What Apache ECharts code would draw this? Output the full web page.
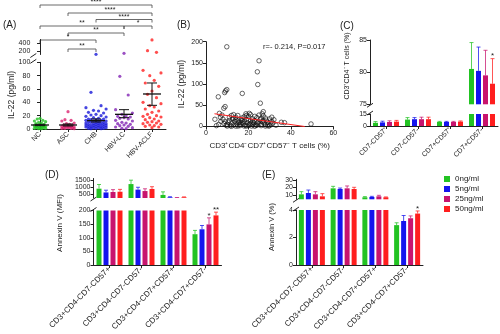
<!DOCTYPE html>
<html>
<head>
<meta charset="utf-8">
<script src="https://cdn.jsdelivr.net/npm/echarts@6/dist/echarts.min.js"></script>
<style>html,body{margin:0;background:#fff}#main{width:500px;height:334px}</style>
</head>
<body>
<div id="main"></div>
<script>
// ---- data ----
const aGroups = ['NC', 'ASC', 'CHB', 'HBV-LC', 'HBV-ACLF']
const ncVals = [16, 15, 13, 12, 11, 10, 9, 8, 7, 7, 6, 5, 5, 4, 4, 3, 3, 3, 2, 2, 2, 1, 1, 0.5, 0.5]
const ascVals = [26, 14, 13, 12, 9, 8, 7, 6, 6, 5, 5, 4, 4, 3, 3, 3, 2, 2, 2, 1, 1, 1, 0.5]
const chbVals = [115, 55, 35, 32, 30, 28, 27, 25, 24, 22, 21, 20, 19, 18, 17, 16, 15, 15, 14, 14, 13, 13, 12, 12, 11, 11, 10, 10, 10, 9, 9, 8, 8, 8, 7, 7, 7, 6, 6, 6, 5, 5, 5, 4, 4, 4, 3, 3, 3, 2, 2, 2, 1, 1, 1, 0.5, 0.5]
const lcVals = [141, 79, 51, 29, 24, 22, 20, 19, 18, 17, 16, 15, 13, 12, 10, 9, 8, 7, 6, 5, 4, 3, 2, 1, 0.5]
const aclfVals = [490, 209, 167, 88, 84, 80, 73, 69, 64, 57, 52, 47, 40, 38, 35, 33, 30, 27, 25, 22, 20, 19, 18, 17, 15, 14, 12, 11, 10, 9, 8, 7, 6, 5, 4, 3, 2]
const aMean = [6, 6, 12.5, 22, 52.5]
const aSemLo = [5, 4.5, 10.5, 17, 35.5]
const aSemHi = [7, 7.5, 15, 29, 69]
// [from group, to group, label, y px of bracket]
const aSig = [[0, 4, '****', 5], [1, 4, '****', 13], [2, 4, '****', 19.5], [0, 3, '**', 26], [3, 4, '*', 26], [1, 3, '**', 33], [0, 2, '*', 40], [1, 2, '**', 49]]

const bPoints = [[9.8, 188], [25, 155], [24.2, 129], [24.4, 99], [25.6, 55], [17.1, 78], [9.8, 87], [9.2, 84], [8.8, 80], [5.8, 70],
  [8.4, 43], [9, 47], [6.3, 31], [49.5, 6], [37, 9], [35.5, 10], [4.2, 17], [4.9, 2], [20.4, 31], [18.8, 30], [27, 35], [26.5, 30],
  [6.8, 22], [7.5, 27], [8, 17], [10, 5], [10.5, 10], [11, 14], [11.5, 2], [12, 8], [12.5, 18], [13, 4], [13.5, 12], [14, 22],
  [14.5, 6], [15, 26], [15.5, 10], [16, 2], [16.5, 15], [17, 20], [17.5, 7], [18, 12], [18.5, 3], [19, 17], [19.5, 9], [20, 24],
  [20.5, 5], [21, 13], [21.5, 1], [22, 18], [22.5, 8], [23, 14], [23.5, 3], [24, 21], [24.5, 10], [25, 6], [25.5, 16], [26, 2],
  [26.5, 12], [27, 25], [27.5, 8], [28, 4], [28.5, 15], [29, 10], [29.5, 1], [30, 18], [30.5, 6], [31, 12], [32, 16], [33, 3],
  [11, 22], [13, 28], [15, 1], [17, 9], [19, 1], [21, 28], [23, 0.5], [9, 12], [9.5, 3], [8.5, 7], [7, 12], [6, 5], [12, 26],
  [14, 16], [16, 9], [18, 23], [20, 15], [22, 4], [24, 8], [26, 19], [28, 20], [30, 2], [31.5, 8], [10, 1], [12, 0.5], [14, 1],
  [16, 5], [18, 1], [20, 2], [22, 11], [24, 3], [26, 5], [28, 1], [13, 19], [15, 13], [17, 14], [19, 26], [21, 7], [23, 24],
  [25, 27], [27, 14], [29, 4], [31, 22]]
const bFit = [[4, 30], [46.5, 0]]

const doses = ['0ng/ml', '5ng/ml', '25ng/ml', '50ng/ml']
const cCats = ['CD7-CD57⁺', 'CD7-CD57-', 'CD7+CD57⁺', 'CD7+CD57-']
const cMean = [[4, 8, 5, 80.5], [4.5, 8.5, 5, 80.2], [5, 8.5, 5, 79.5], [5.5, 8.5, 5.5, 78.2]]
const cSD = [[1.5, 2.5, 0.8, 4.1], [1.5, 2, 0.8, 3.7], [1.5, 2.5, 0.8, 3.9], [1.5, 2.5, 0.8, 3.9]]
const cStars = [['', '', '', ''], ['', '', '', ''], ['', '', '', ''], ['', '', '', '*']]

const deCats = ['CD3+CD4-CD7-CD57+', 'CD3+CD4-CD7-CD57-', 'CD3+CD4-CD7+CD57+', 'CD3+CD4-CD7+CD57-']
const dMean = [[870, 1200, 420, 113], [600, 800, 250, 131], [630, 700, 215, 149], [650, 850, 250, 182]]
const dSD = [[300, 280, 220, 14], [160, 170, 40, 14], [170, 160, 20, 24], [170, 160, 30, 12]]
const dStars = [['', '', '', ''], ['', '', '', ''], ['', '', '', '*'], ['', '', '', '**']]
const eMean = [[10.7, 18.8, 6.7, 2.9], [12.5, 17.9, 7.1, 3.2], [10.7, 18.8, 8, 3.4], [8, 17.9, 6.7, 3.74]]
const eSD = [[3.6, 2.7, 0.9, 0.17], [4, 1.3, 0.9, 0.4], [3.6, 3.2, 1.4, 0.17], [3.6, 2.3, 0.5, 0.19]]
const eStars = [['', '', '', ''], ['', '', '', ''], ['', '', '', ''], ['', '', '', '*']]

// ---- styles / layout ----
const FONT = 'Liberation Sans, Arial, sans-serif'
const INK = '#222'
const aColors = ['#22c322', '#dc2470', '#1818d8', '#8224b4', '#ff2020']
const doseColors = ['#22c322', '#1414ee', '#c8146e', '#ff1e1e']
const jit = [0, -0.5, 0.5, -1, 1, -0.25, 0.25, -0.75, 0.75]
const spread = [0.2, 0.22, 0.36, 0.3, 0.32]

const G = [
  { left: 33.3, top: 39.5, width: 132.7, height: 15 }, // A upper
  { left: 33.3, top: 62.3, width: 132.7, height: 66.7 }, // A lower
  { left: 206, top: 41.7, width: 127.3, height: 84.8 }, // B
  { left: 370, top: 40, width: 128, height: 64.3 }, // C upper
  { left: 370, top: 114, width: 128, height: 12 }, // C lower
  { left: 93.5, top: 178.5, width: 128, height: 19.5 }, // D upper
  { left: 93.5, top: 210.5, width: 128, height: 54.5 }, // D lower
  { left: 296, top: 179.3, width: 127, height: 20 }, // E upper
  { left: 296, top: 210, width: 127, height: 55 } // E lower
]

const line = { show: true, lineStyle: { color: INK, width: 1 } }
const tick = { show: true, length: 3, lineStyle: { color: INK, width: 1 } }
const lab = { color: INK, fontSize: 7, margin: 3, fontFamily: FONT, formatter: v => String(v) }

function yAx (i, min, max, opts) {
  return Object.assign({ gridIndex: i, type: 'value', min, max, axisLine: line, axisTick: tick, axisLabel: Object.assign({}, lab), splitLine: { show: false } }, opts || {})
}
function catAx (i, cats, show, fs) {
  return {
    gridIndex: i, type: 'category', data: cats, show,
    axisLine: line, axisTick: Object.assign({ alignWithLabel: true }, tick),
    axisLabel: { color: INK, fontFamily: FONT, margin: 3, rotate: 45, interval: 0, fontSize: fs },
    splitLine: { show: false }
  }
}

const xAxis = [
  { gridIndex: 0, type: 'value', min: -0.24, max: 4.5, show: false },
  { gridIndex: 1, type: 'value', min: -0.24, max: 4.5, axisLine: line, splitLine: { show: false },
    axisTick: Object.assign({ customValues: [0, 1, 2, 3, 4] }, tick),
    axisLabel: Object.assign({}, lab, { customValues: [0, 1, 2, 3, 4], rotate: 45, margin: 4, formatter: v => aGroups[v] }) },
  { gridIndex: 2, type: 'value', min: 0, max: 60, interval: 20, axisLine: line, axisTick: tick, axisLabel: lab, splitLine: { show: false },
    name: 'CD3⁺CD4⁻CD7⁺CD57⁻ T cells (%)', nameLocation: 'middle', nameGap: 15, nameTextStyle: { fontSize: 8, color: INK, fontFamily: FONT } },
  catAx(3, cCats, false, 7), catAx(4, cCats, true, 7),
  catAx(5, deCats, false, 8), catAx(6, deCats, true, 8),
  catAx(7, deCats, false, 8), catAx(8, deCats, true, 8)
]
const yAxis = [
  yAx(0, 110, 500, { axisTick: Object.assign({ customValues: [200, 400] }, tick), axisLabel: Object.assign({ customValues: [200, 400] }, lab) }),
  yAx(1, 0, 100, { interval: 20 }),
  yAx(2, 0, 200, { interval: 50, name: 'IL-22 (pg/ml)', nameLocation: 'middle', nameGap: 20, nameTextStyle: { fontSize: 8.5, color: INK, fontFamily: FONT } }),
  yAx(3, 75, 85, { interval: 5 }),
  yAx(4, 0, 15, { interval: 15 }),
  yAx(5, 200, 1600, { axisTick: Object.assign({ customValues: [500, 1000, 1500] }, tick), axisLabel: Object.assign({ customValues: [500, 1000, 1500] }, lab) }),
  yAx(6, 0, 200, { interval: 50 }),
  yAx(7, 4, 31, { axisTick: Object.assign({ customValues: [10, 20, 30] }, tick), axisLabel: Object.assign({ customValues: [10, 20, 30] }, lab) }),
  yAx(8, 0, 4, { interval: 2 })
]

const series = []

// panel A: dot plot split over the broken axis
const aVals = [ncVals, ascVals, chbVals, lcVals, aclfVals]
aVals.forEach((vals, g) => {
  const pts = vals.map((v, i) => [g + jit[i % jit.length] * spread[g], v])
  series.push({ name: aGroups[g], type: 'scatter', xAxisIndex: 0, yAxisIndex: 0, symbolSize: 3.2, itemStyle: { color: aColors[g] }, data: pts.filter(p => p[1] > 100) })
  series.push({ name: aGroups[g], type: 'scatter', xAxisIndex: 1, yAxisIndex: 1, symbolSize: 3.2, itemStyle: { color: aColors[g] }, data: pts.filter(p => p[1] <= 100) })
})
series.push({
  type: 'custom', xAxisIndex: 1, yAxisIndex: 1, z: 5,
  data: aMean.map((m, g) => [g, m, aSemLo[g], aSemHi[g]]),
  renderItem (params, api) {
    const g = api.value(0)
    const m = api.coord([g, api.value(1)])
    const lo = api.coord([g, api.value(2)])
    const hi = api.coord([g, api.value(3)])
    const st = { stroke: '#111', lineWidth: 1 }
    return { type: 'group', children: [
      { type: 'line', shape: { x1: m[0] - 9, y1: m[1], x2: m[0] + 9, y2: m[1] }, style: { stroke: '#111', lineWidth: 1.3 } },
      { type: 'line', shape: { x1: m[0], y1: lo[1], x2: m[0], y2: hi[1] }, style: st },
      { type: 'line', shape: { x1: m[0] - 5, y1: lo[1], x2: m[0] + 5, y2: lo[1] }, style: st },
      { type: 'line', shape: { x1: m[0] - 5, y1: hi[1], x2: m[0] + 5, y2: hi[1] }, style: st }
    ] }
  }
})

// panel B
series.push({ type: 'scatter', xAxisIndex: 2, yAxisIndex: 2, symbolSize: 4.5, itemStyle: { color: 'rgba(255,255,255,0)', borderColor: '#111', borderWidth: 0.8 }, data: bPoints })
series.push({ type: 'line', xAxisIndex: 2, yAxisIndex: 2, symbol: 'none', lineStyle: { color: '#ff2020', width: 1 }, data: bFit, z: 3 })

// bar panels C, D, E
function errItem (off, color, stars) {
  return function (params, api) {
    const c = api.value(0)
    const p0 = api.coord([c, api.value(1)])
    const p1 = api.coord([c, api.value(1) + api.value(2)])
    const x = p0[0] + off
    const st = { stroke: color, lineWidth: 1, opacity: 0.75 }
    const kids = [
      { type: 'line', shape: { x1: x, y1: p0[1], x2: x, y2: p1[1] }, style: st },
      { type: 'line', shape: { x1: x - 2, y1: p1[1], x2: x + 2, y2: p1[1] }, style: st }
    ]
    if (stars[c]) kids.push({ type: 'text', x, y: p1[1] + 1.5, style: { text: stars[c], fill: INK, fontSize: 8, fontFamily: FONT, align: 'center', verticalAlign: 'bottom' } })
    return { type: 'group', children: kids }
  }
}
function barPanel (means, sds, stars, up, lo) {
  const upMin = yAxis[up].min
  const loMax = yAxis[lo].max
  doses.forEach((name, d) => {
    const off = (d - 1.5) * 7
    const color = doseColors[d]
    const errs = means[d].map((v, c) => [c, v, sds[d][c]])
    series.push({ name, type: 'bar', xAxisIndex: up, yAxisIndex: up, barWidth: 5, barGap: '40%', itemStyle: { color }, data: means[d].map(v => v > upMin ? v : '-') })
    series.push({ name, type: 'bar', xAxisIndex: lo, yAxisIndex: lo, barWidth: 5, barGap: '40%', itemStyle: { color }, data: means[d] })
    series.push({ type: 'custom', xAxisIndex: up, yAxisIndex: up, renderItem: errItem(off, color, stars[d]), data: errs.filter(p => p[1] > upMin) })
    series.push({ type: 'custom', xAxisIndex: lo, yAxisIndex: lo, renderItem: errItem(off, color, stars[d]), data: errs.filter(p => p[1] < loMax) })
  })
}
barPanel(cMean, cSD, cStars, 3, 4)
barPanel(dMean, dSD, dStars, 5, 6)
barPanel(eMean, eSD, eStars, 7, 8)

// static texts and break marks
function txt (s, x, y, fs, rot) {
  return { type: 'text', x, y, rotation: rot || 0, style: { text: s, fill: INK, fontSize: fs, fontFamily: FONT, align: rot ? 'center' : 'left', verticalAlign: 'middle' } }
}
function slash (x, y) {
  return { type: 'line', shape: { x1: x - 3, y1: y + 2, x2: x + 3, y2: y - 2 }, style: { stroke: INK, lineWidth: 1 } }
}
const graphic = [
  txt('(A)', 3, 25, 10), txt('(B)', 177, 25, 10), txt('(C)', 340, 26, 10), txt('(D)', 45, 175, 10), txt('(E)', 262, 175, 10),
  txt('IL-22 (pg/ml)', 12, 95, 8.5, Math.PI / 2),
  txt('CD3⁺CD4⁻ T cells (%)', 347, 66, 7, Math.PI / 2),
  txt('Annexin V (MFI)', 60, 223, 8, Math.PI / 2),
  txt('Annexin V (%)', 272, 227, 7.5, Math.PI / 2),
  txt('r=- 0.214, P=0.017', 263, 47, 7.5)
]
;[[0, 1], [3, 4], [5, 6], [7, 8]].forEach(([u, l]) => {
  graphic.push(slash(G[u].left, G[u].top + G[u].height + 1))
  graphic.push(slash(G[l].left, G[l].top - 1))
})

const chart = echarts.init(document.getElementById('main'))
chart.setOption({
  animation: false,
  textStyle: { fontFamily: FONT },
  grid: G.map(g => Object.assign({ containLabel: false, outerBoundsMode: 'none' }, g)),
  xAxis, yAxis, series,
  legend: { data: doses, orient: 'vertical', left: 439, top: 170, icon: 'rect', itemWidth: 6, itemHeight: 6, itemGap: 2, textStyle: { fontSize: 8, color: INK, fontFamily: FONT } },
  graphic
})

// significance brackets in panel A, placed on the category positions
const brackets = aSig.map(([f, t, s, y]) => {
  const x1 = chart.convertToPixel({ xAxisIndex: 1 }, f)
  const x2 = chart.convertToPixel({ xAxisIndex: 1 }, t)
  const st = { stroke: '#444', lineWidth: 0.8 }
  return { type: 'group', children: [
    { type: 'polyline', shape: { points: [[x1, y + 3], [x1, y], [x2, y], [x2, y + 3]] }, style: Object.assign({ fill: null }, st) },
    { type: 'text', x: (x1 + x2) / 2, y: y + 1, style: { text: s, fill: INK, fontSize: 7, fontFamily: FONT, align: 'center', verticalAlign: 'bottom' } }
  ] }
})
chart.setOption({ graphic: graphic.concat(brackets) })
</script>
</body>
</html>
